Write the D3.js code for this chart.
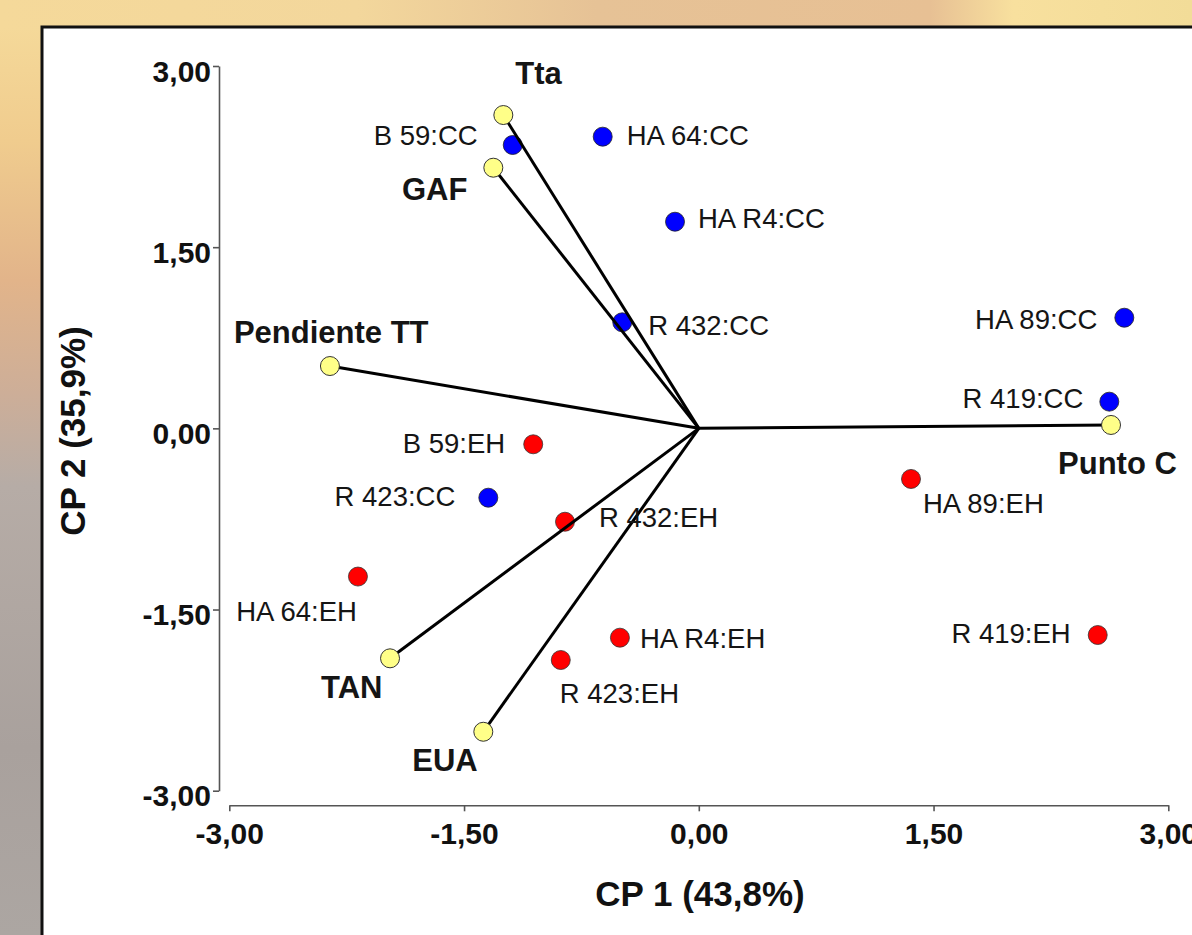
<!DOCTYPE html>
<html>
<head>
<meta charset="utf-8">
<script src="https://cdn.jsdelivr.net/npm/d3@7/dist/d3.min.js"></script>
<style>
  html, body { margin: 0; padding: 0; background: #fff; }
  svg { display: block; }
  text { font-family: "Liberation Sans", Arial, sans-serif; }
</style>
</head>
<body>
<svg id="chart" width="1192" height="935"></svg>
<script>
// ---- data ----
const variableNames = ["Tta", "GAF", "Pendiente TT", "Punto C", "TAN", "EUA"];
const variableCP1 = [-1.249, -1.313, -2.357, 2.634, -1.973, -1.377];
const variableCP2 = [2.594, 2.158, 0.516, 0.028, -1.904, -2.512];

const ccNames = ["B 59:CC", "HA 64:CC", "HA R4:CC", "R 432:CC", "HA 89:CC", "R 419:CC", "R 423:CC"];
const ccCP1 = [-1.189, -0.614, -0.152, -0.489, 2.719, 2.623, -1.345];
const ccCP2 = [2.346, 2.415, 1.711, 0.878, 0.916, 0.221, -0.574];

const ehNames = ["B 59:EH", "R 432:EH", "HA 64:EH", "HA R4:EH", "R 423:EH", "HA 89:EH", "R 419:EH"];
const ehCP1 = [-1.058, -0.855, -2.178, -0.504, -0.882, 1.356, 2.549];
const ehCP2 = [-0.132, -0.773, -1.227, -1.733, -1.918, -0.419, -1.711];

const tickValues = [-3, -1.5, 0, 1.5, 3];
const xTitle = "CP 1 (43,8%)";
const yTitle = "CP 2 (35,9%)";

// ---- label placement (layout only: anchor, dx, dy in px) ----
const labelPlacement = {
  "Tta": ["start", 12, -31], "GAF": ["end", -26, 32], "Pendiente TT": ["start", -96, -23],
  "Punto C": ["start", -53, 49], "TAN": ["start", -69, 40], "EUA": ["start", -71, 39],
  "B 59:CC": ["end", -35, 0], "HA 64:CC": ["start", 24, 8], "HA R4:CC": ["start", 23, 6],
  "R 432:CC": ["start", 26, 13], "HA 89:CC": ["end", -27, 11], "R 419:CC": ["end", -26, 6],
  "R 423:CC": ["end", -33, 8],
  "B 59:EH": ["end", -28, 9], "R 432:EH": ["start", 34, 5], "HA 64:EH": ["end", -1, 44],
  "HA R4:EH": ["start", 20, 10], "R 423:EH": ["start", -1, 43], "HA 89:EH": ["start", 12, 34],
  "R 419:EH": ["end", -27, 8]
};

const variables = variableNames.map((n, i) => ({name: n, x: variableCP1[i], y: variableCP2[i]}));
const cc = ccNames.map((n, i) => ({name: n, x: ccCP1[i], y: ccCP2[i]}));
const eh = ehNames.map((n, i) => ({name: n, x: ehCP1[i], y: ehCP2[i]}));

const svg = d3.select("#chart");
const W = 1192, H = 935;

// ---- background (blurred photo approximation) ----
const defs = svg.append("defs");
const vg = defs.append("linearGradient").attr("id", "bgV").attr("x1", 0).attr("y1", 0).attr("x2", 0).attr("y2", 1);
[[0, "#f6dc9c"], [0.15, "#f0cc8e"], [0.3, "#e2b48a"], [0.42, "#cdae98"], [0.52, "#b6aca6"], [0.8, "#a9a19d"], [1, "#aca6a2"]]
  .forEach(([o, c]) => vg.append("stop").attr("offset", o).attr("stop-color", c));
const hg = defs.append("linearGradient").attr("id", "bgH").attr("x1", 0).attr("y1", 0).attr("x2", 1).attr("y2", 0);
[[0, "#f5d99a"], [0.3, "#f3d79c"], [0.5, "#e6c296"], [0.78, "#e7c094"], [0.85, "#f8e09e"], [1, "#f2dc98"]]
  .forEach(([o, c]) => hg.append("stop").attr("offset", o).attr("stop-color", c));
svg.append("rect").attr("width", W).attr("height", H).attr("fill", "url(#bgV)");
svg.append("rect").attr("width", W).attr("height", 30).attr("fill", "url(#bgH)");

// panel
svg.append("rect").attr("x", 42).attr("y", 27).attr("width", 1300).attr("height", 1000)
  .attr("fill", "#fff").attr("stroke", "#111").attr("stroke-width", 3);

// ---- scales ----
const x = d3.scaleLinear().domain([-3, 3]).range([229.3, 1168.3]);
const y = d3.scaleLinear().domain([-3, 3]).range([790.7, 66]);
const loc = d3.formatLocale({decimal: ",", thousands: ".", grouping: [3], currency: ["", ""], minus: "-"});
const fmt = loc.format(".2f");

// ---- axes ----
const yAxis = svg.append("g").attr("transform", "translate(219,0)")
  .call(d3.axisLeft(y).tickValues(tickValues).tickFormat(fmt).tickSize(6).tickSizeOuter(0));
yAxis.selectAll("text").attr("x", -8).attr("y", 15).attr("dy", null)
  .attr("font-size", 30).attr("font-weight", "bold").attr("fill", "#111")
  .attr("font-family", "'Liberation Sans', Arial, sans-serif");

const xAxis = svg.append("g").attr("transform", "translate(0,805.3)")
  .call(d3.axisBottom(x).tickValues(tickValues).tickFormat(fmt).tickSize(6).tickSizeOuter(0));
xAxis.selectAll("text").attr("y", 38.7).attr("dy", null)
  .attr("font-size", 30).attr("font-weight", "bold").attr("fill", "#111")
  .attr("font-family", "'Liberation Sans', Arial, sans-serif");

[yAxis, xAxis].forEach(a => {
  a.select(".domain").attr("stroke", "#555").attr("stroke-width", 1.6);
  a.selectAll(".tick line").attr("stroke", "#555").attr("stroke-width", 1.6);
});

// axis titles
svg.append("text").attr("x", 700).attr("y", 906).attr("text-anchor", "middle")
  .attr("font-size", 35).attr("font-weight", "bold").attr("fill", "#111").text(xTitle);
svg.append("text").attr("transform", "translate(85,431) rotate(-90)").attr("text-anchor", "middle")
  .attr("font-size", 35).attr("font-weight", "bold").attr("fill", "#111").text(yTitle);

// ---- observation points ----
const r = 9.5;
svg.append("g").selectAll("circle").data(cc).join("circle")
  .attr("cx", d => x(d.x)).attr("cy", d => y(d.y)).attr("r", r)
  .attr("fill", "#0000ff").attr("stroke", "#222").attr("stroke-width", 0.8);
svg.append("g").selectAll("circle").data(eh).join("circle")
  .attr("cx", d => x(d.x)).attr("cy", d => y(d.y)).attr("r", r)
  .attr("fill", "#ff0000").attr("stroke", "#333").attr("stroke-width", 0.8);

// ---- variable vectors ----
svg.append("g").selectAll("line").data(variables).join("line")
  .attr("x1", x(0)).attr("y1", y(0))
  .attr("x2", d => x(d.x)).attr("y2", d => y(d.y))
  .attr("stroke", "#000").attr("stroke-width", 3);
svg.append("g").selectAll("circle").data(variables).join("circle")
  .attr("cx", d => x(d.x)).attr("cy", d => y(d.y)).attr("r", r)
  .attr("fill", "#ffff88").attr("stroke", "#333").attr("stroke-width", 1);

// ---- labels ----
function addLabels(data, bold, size) {
  svg.append("g").selectAll("text").data(data).join("text")
    .attr("x", d => x(d.x) + labelPlacement[d.name][1])
    .attr("y", d => y(d.y) + labelPlacement[d.name][2])
    .attr("text-anchor", d => labelPlacement[d.name][0])
    .attr("font-size", size).attr("font-weight", bold ? "bold" : "normal")
    .attr("fill", "#151515")
    .text(d => d.name);
}
addLabels(cc, false, 27.5);
addLabels(eh, false, 27.5);
addLabels(variables, true, 31);
</script>
</body>
</html>
